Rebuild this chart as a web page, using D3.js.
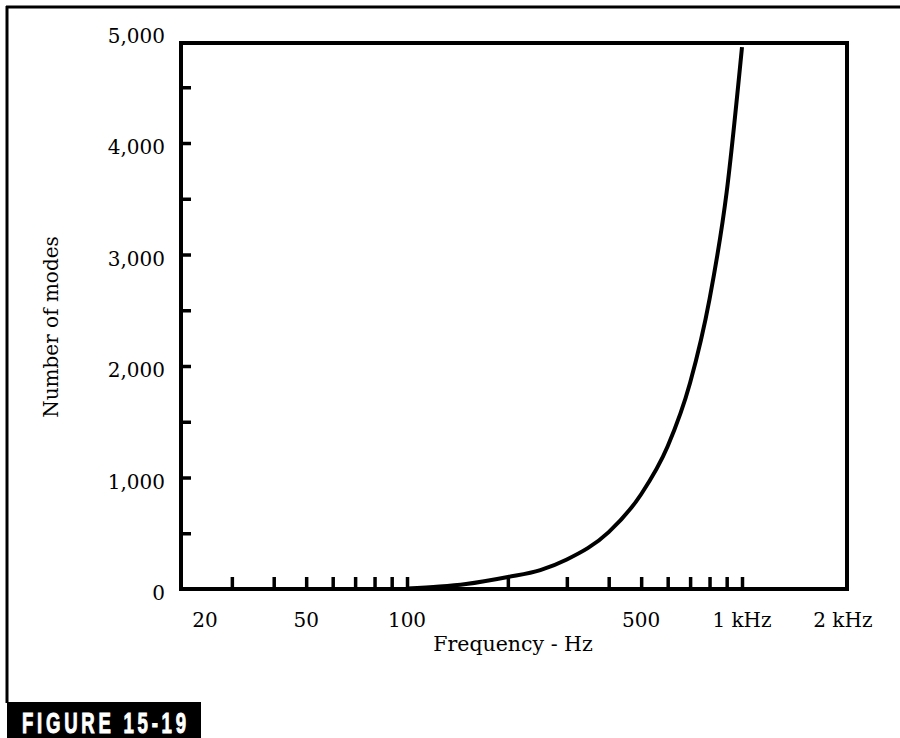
<!DOCTYPE html>
<html>
<head>
<meta charset="utf-8">
<script src="https://cdn.jsdelivr.net/npm/d3@7/dist/d3.min.js"></script>
<style>
  html, body { margin: 0; padding: 0; background: #fff; }
  svg { display: block; }
</style>
</head>
<body>
<script>
// ---- data ----
const freqHz = [100, 125, 150, 200, 250, 300, 400, 500, 600, 700, 800, 900, 1000];
const modeCount = [5, 22, 45, 108, 170, 265, 510, 850, 1280, 1850, 2600, 3560, 4860];
const yTickValues = [0, 1000, 2000, 3000, 4000, 5000];
const yTickLabels = ["0", "1,000", "2,000", "3,000", "4,000", "5,000"];
const yMinorTicks = [500, 1000, 1500, 2000, 2500, 3000, 3500, 4000, 4500];
const xTickValues = [30, 40, 50, 60, 70, 80, 90, 100, 200, 300, 400, 500, 600, 700, 800, 900, 1000];
const xLabelValues = [20, 50, 100, 500, 1000, 2000];
const xLabelTexts = ["20", "50", "100", "500", "1 kHz", "2 kHz"];
const xTitle = "Frequency - Hz";
const yTitle = "Number of modes";
const figureLabel = "FIGURE 15-19";

// ---- layout ----
const W = 900, H = 738;
const box = { left: 181, right: 847, top: 43, bottom: 589 };
const serif = "'DejaVu Serif', serif";

const svg = d3.select("body").append("svg").attr("width", W).attr("height", H);

// outer frame (top + left rules)
svg.append("line").attr("x1", 6).attr("x2", W).attr("y1", 7).attr("y2", 7)
  .attr("stroke", "#000").attr("stroke-width", 3);
svg.append("line").attr("x1", 7).attr("x2", 7).attr("y1", 6).attr("y2", 703)
  .attr("stroke", "#000").attr("stroke-width", 3);

const x = d3.scaleLog().domain([21.15, 2058]).range([box.left, box.right]);
const y = d3.scaleLinear().domain([0, 4897]).range([box.bottom, box.top]);

// plot box
svg.append("rect")
  .attr("x", box.left).attr("y", box.top)
  .attr("width", box.right - box.left).attr("height", box.bottom - box.top)
  .attr("fill", "none").attr("stroke", "#000").attr("stroke-width", 4);

// x ticks (inward)
const xAxis = d3.axisBottom(x).tickValues(xTickValues).tickSizeInner(-12).tickSizeOuter(0).tickFormat("");
const gx = svg.append("g").attr("transform", `translate(0,${box.bottom})`).call(xAxis);
gx.select(".domain").remove();
gx.selectAll(".tick line").attr("stroke", "#000").attr("stroke-width", 3.5);

// y minor ticks (inward)
const yAxis = d3.axisLeft(y).tickValues(yMinorTicks).tickSizeInner(-10).tickSizeOuter(0).tickFormat("");
const gy = svg.append("g").attr("transform", `translate(${box.left},0)`).call(yAxis);
gy.select(".domain").remove();
gy.selectAll(".tick line").attr("stroke", "#000").attr("stroke-width", 3.5);

// y labels
svg.append("g").selectAll("text").data(yTickValues).join("text")
  .attr("x", 165)
  .attr("y", (d, i) => y(d) + 4)
  .attr("dy", "0.35em")
  .attr("text-anchor", "end")
  .attr("font-family", serif).attr("font-size", 20).attr("fill", "#000")
  .text((d, i) => yTickLabels[i]);

// x labels
svg.append("g").selectAll("text").data(xLabelValues).join("text")
  .attr("x", d => Math.max(x(d), box.left + 24))
  .attr("y", 627)
  .attr("text-anchor", "middle")
  .attr("font-family", serif).attr("font-size", 20).attr("fill", "#000")
  .text((d, i) => xLabelTexts[i]);

// axis titles
svg.append("text").attr("x", 513).attr("y", 651).attr("text-anchor", "middle")
  .attr("font-family", serif).attr("font-size", 20.5).attr("fill", "#000").text(xTitle);
svg.append("text").attr("transform", "translate(58,327) rotate(-90)").attr("text-anchor", "middle")
  .attr("font-family", serif).attr("font-size", 20).attr("fill", "#000").text(yTitle);

// curve
const line = d3.line()
  .x((d, i) => x(freqHz[i]))
  .y((d, i) => y(modeCount[i]))
  .curve(d3.curveMonotoneX);
svg.append("path").datum(modeCount).attr("d", line)
  .attr("fill", "none").attr("stroke", "#000").attr("stroke-width", 4)
  .attr("stroke-linecap", "butt").attr("stroke-linejoin", "round");

// figure label
svg.append("rect").attr("x", 7).attr("y", 702).attr("width", 194).attr("height", 36).attr("fill", "#000");
const sx = 0.62;
svg.append("g").attr("transform", `translate(22,733) scale(${sx},1)`)
  .append("text").attr("x", 0).attr("y", 0)
  .attr("font-family", "'Liberation Sans', 'DejaVu Sans', sans-serif")
  .attr("font-weight", "bold").attr("font-size", 30).attr("fill", "#fff")
  .attr("stroke", "#fff").attr("stroke-width", 1)
  .attr("textLength", 164 / sx).attr("lengthAdjust", "spacing")
  .text(figureLabel);
</script>
</body>
</html>
